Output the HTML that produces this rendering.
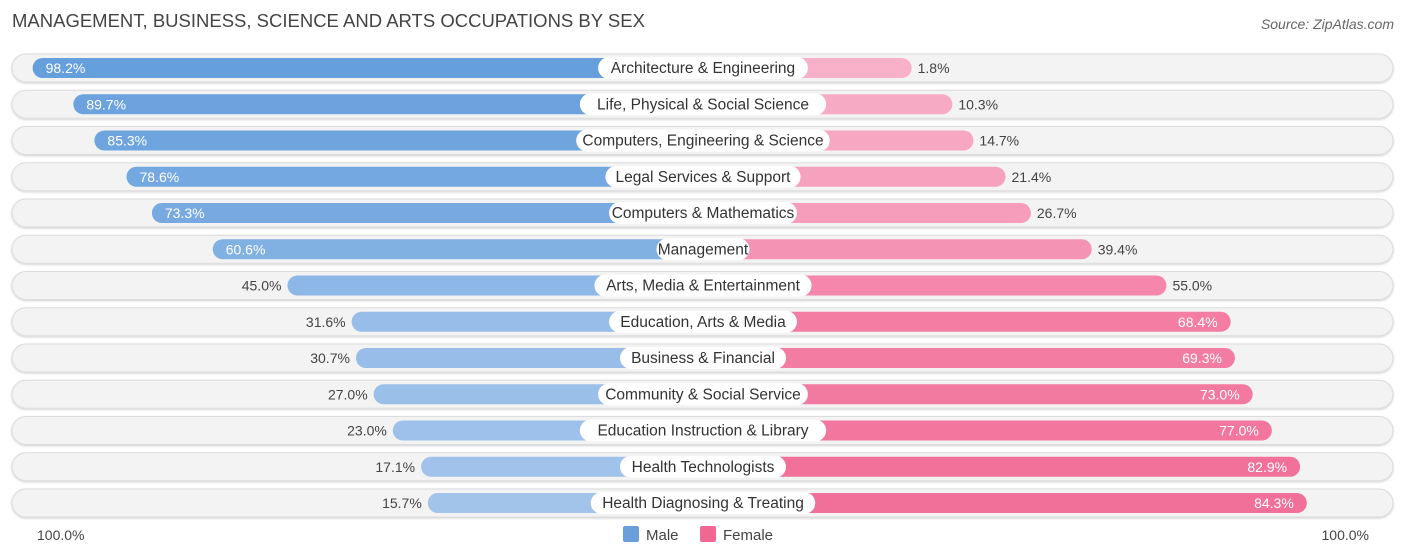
<!DOCTYPE html>
<html><head><meta charset="utf-8"><style>
body{margin:0;background:#fff;font-family:"Liberation Sans",sans-serif;}
#c{position:relative;width:1406px;height:559px;overflow:hidden}
.t{position:absolute;white-space:nowrap}
</style></head><body>
<div id="c">
<div class="t" style="left:12px;top:10px;font-size:18.5px;color:#444">MANAGEMENT, BUSINESS, SCIENCE AND ARTS OCCUPATIONS BY SEX</div>
<div class="t" style="right:12px;top:16px;font-size:14px;color:#666;font-style:italic">Source: ZipAtlas.com</div>
<svg id="s" width="1406" height="559" style="position:absolute;left:0;top:0"></svg>
</div>
<script>
const categories=["Architecture & Engineering","Life, Physical & Social Science","Computers, Engineering & Science","Legal Services & Support","Computers & Mathematics","Management","Arts, Media & Entertainment","Education, Arts & Media","Business & Financial","Community & Social Service","Education Instruction & Library","Health Technologists","Health Diagnosing & Treating"];
const male=[98.2,89.7,85.3,78.6,73.3,60.6,45.0,31.6,30.7,27.0,23.0,17.1,15.7];
const female=[1.8,10.3,14.7,21.4,26.7,39.4,55.0,68.4,69.3,73.0,77.0,82.9,84.3];
const NS="http://www.w3.org/2000/svg",s=document.getElementById('s');
const cx=703,off=200,sc=4.79,y0=68,dy=36.25;
function mk(t,a,p){const e=document.createElementNS(NS,t);for(const k in a)e.setAttribute(k,a[k]);(p||s).appendChild(e);return e;}
function mix(a,b,t){return 'rgb('+a.map((v,i)=>Math.round(v+(b[i]-v)*t)).join(',')+')';}
const defs=mk('defs',{});
const f=mk('filter',{id:'sh',x:'-5%',y:'-30%',width:'110%',height:'160%'},defs);
mk('feDropShadow',{dx:0,dy:1,stdDeviation:1,'flood-color':'#000','flood-opacity':0.18},f);
categories.forEach((c,i)=>{
 const y=y0+i*dy;
 const bg=mk('rect',{x:12,y:y-14,width:1381,height:28,rx:14,fill:'#f3f3f3',stroke:'#dcdcdc','stroke-width':1,filter:'url(#sh)'});
 
 const mw=off+male[i]*sc, fw=off+female[i]*sc;
 const mb=mk('rect',{x:cx-mw,y:y-10,width:mw,height:20,rx:10,fill:mix([174,203,238],[100,158,220],male[i]/100)});
 
 const fb=mk('rect',{x:cx,y:y-10,width:fw,height:20,rx:10,fill:mix([248,178,202],[240,100,145],female[i]/100)});
 
 const lw=c.length*7.3+20;
 const lb=mk('rect',{x:cx-lw/2,y:y-11,width:lw,height:22,rx:11,fill:'#fff'});
 
 const lt=mk('text',{x:cx,y:y+5,'text-anchor':'middle','font-size':15.5,fill:'#333'});lt.textContent=c;
 
 const mi=male[i]>=60;
 const mt=mk('text',{x:mi?cx-mw+13:cx-mw-6,y:y+5,'text-anchor':mi?'start':'end','font-size':14,fill:mi?'#fff':'#444'});mt.textContent=male[i].toFixed(1)+'%';
 
 const fi=female[i]>=60;
 const ft=mk('text',{x:fi?cx+fw-13:cx+fw+6,y:y+5,'text-anchor':fi?'end':'start','font-size':14,fill:fi?'#fff':'#444'});ft.textContent=female[i].toFixed(1)+'%';
 
});
const a1=mk('text',{x:37,y:540,'font-size':14,fill:'#444'});a1.textContent='100.0%';

const a2=mk('text',{x:1369,y:540,'text-anchor':'end','font-size':14,fill:'#444'});a2.textContent='100.0%';

const l1=mk('rect',{x:623,y:526,width:16,height:16,rx:2,fill:'#6a9fdc'});

const t1=mk('text',{x:646,y:540,'font-size':15,fill:'#444'});t1.textContent='Male';

const l2=mk('rect',{x:700,y:526,width:16,height:16,rx:2,fill:'#f06892'});

const t2=mk('text',{x:723,y:540,'font-size':15,fill:'#444'});t2.textContent='Female';

</script>
</body></html>
